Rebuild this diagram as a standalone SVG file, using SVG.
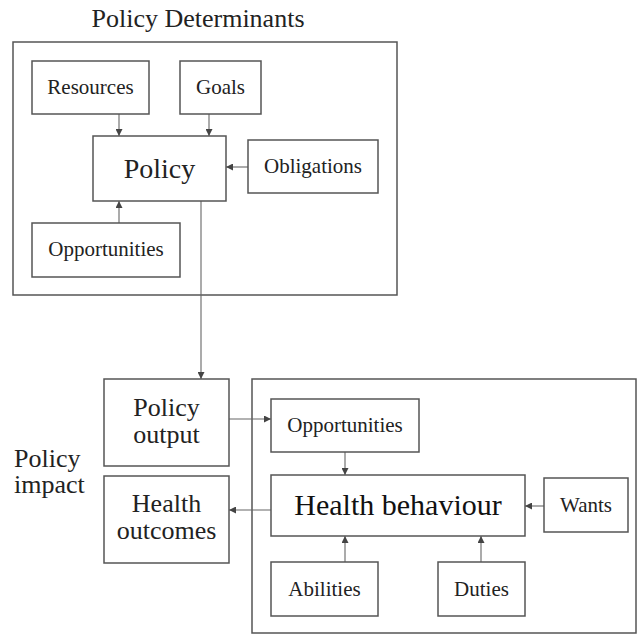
<svg xmlns="http://www.w3.org/2000/svg" width="637" height="634" viewBox="0 0 637 634">
  <style>
    .frame { fill: none; stroke: #555; stroke-width: 1.5; }
    .box { fill: #fff; stroke: #555; stroke-width: 1.5; }
    .edge { fill: none; stroke: #666; stroke-width: 1.1; }
    .t { font-family: "Liberation Serif", "Times New Roman", serif; fill: #222; text-anchor: middle; }
    .sm { font-size: 21px; }
    .md { font-size: 26px; }
    .lg { font-size: 28px; }
    .xl { font-size: 30px; fill: #111; }
    .left { text-anchor: start; }
  </style>
  <defs>
    <marker id="arrow" viewBox="0 0 10 10" refX="10" refY="5" markerWidth="7" markerHeight="7" markerUnits="userSpaceOnUse" orient="auto">
      <path d="M0,0 L10,5 L0,10 z" fill="#444"/>
    </marker>
  </defs>

  <rect width="637" height="634" fill="#fff"/>

  <!-- Group frames and headings -->
  <g id="determinants-frame">
    <text class="t md" x="198" y="27">Policy Determinants</text>
    <rect class="frame" x="13" y="42" width="384" height="253"/>
  </g>
  <g id="impact-label">
    <text class="t md left" x="14" y="467">Policy</text>
    <text class="t md left" x="14" y="493">impact</text>
  </g>
  <g id="behaviour-frame">
    <rect class="frame" x="252" y="379" width="384" height="254"/>
  </g>

  <!-- Connectors -->
  <g id="connectors">
    <line class="edge" x1="119" y1="114" x2="119" y2="136" marker-end="url(#arrow)"/>
    <line class="edge" x1="209" y1="114" x2="209" y2="136" marker-end="url(#arrow)"/>
    <line class="edge" x1="248" y1="167" x2="226" y2="167" marker-end="url(#arrow)"/>
    <line class="edge" x1="119" y1="223" x2="119" y2="201" marker-end="url(#arrow)"/>
    <line class="edge" x1="201" y1="201" x2="201" y2="379" marker-end="url(#arrow)"/>
    <line class="edge" x1="229" y1="419" x2="271" y2="419" marker-end="url(#arrow)"/>
    <line class="edge" x1="271" y1="510" x2="229" y2="510" marker-end="url(#arrow)"/>
    <line class="edge" x1="345" y1="452" x2="345" y2="475" marker-end="url(#arrow)"/>
    <line class="edge" x1="544" y1="506" x2="525" y2="506" marker-end="url(#arrow)"/>
    <line class="edge" x1="345" y1="562" x2="345" y2="536" marker-end="url(#arrow)"/>
    <line class="edge" x1="481" y1="562" x2="481" y2="536" marker-end="url(#arrow)"/>
  </g>

  <!-- Policy determinants -->
  <g id="resources">
    <rect class="box" x="32" y="61" width="117" height="53"/>
    <text class="t sm" x="90.5" y="94">Resources</text>
  </g>
  <g id="goals">
    <rect class="box" x="180" y="61" width="81" height="53"/>
    <text class="t sm" x="220.5" y="94">Goals</text>
  </g>
  <g id="policy">
    <rect class="box" x="93" y="136" width="133" height="65"/>
    <text class="t lg" x="159.5" y="178">Policy</text>
  </g>
  <g id="obligations">
    <rect class="box" x="248" y="140" width="130" height="53"/>
    <text class="t sm" x="313" y="173">Obligations</text>
  </g>
  <g id="opportunities-policy">
    <rect class="box" x="32" y="223" width="148" height="54"/>
    <text class="t sm" x="106" y="256">Opportunities</text>
  </g>

  <!-- Policy impact -->
  <g id="policy-output">
    <rect class="box" x="104" y="379" width="125" height="87"/>
    <text class="t md" x="166.5" y="416">Policy</text>
    <text class="t md" x="166.5" y="443">output</text>
  </g>
  <g id="health-outcomes">
    <rect class="box" x="104" y="476" width="125" height="87"/>
    <text class="t md" x="166.5" y="512">Health</text>
    <text class="t md" x="166.5" y="539">outcomes</text>
  </g>

  <!-- Health behaviour -->
  <g id="opportunities-behaviour">
    <rect class="box" x="271" y="399" width="148" height="53"/>
    <text class="t sm" x="345" y="432">Opportunities</text>
  </g>
  <g id="health-behaviour">
    <rect class="box" x="271" y="475" width="254" height="61"/>
    <text class="t xl" x="398" y="515">Health behaviour</text>
  </g>
  <g id="wants">
    <rect class="box" x="544" y="478" width="84" height="54"/>
    <text class="t sm" x="586" y="512">Wants</text>
  </g>
  <g id="abilities">
    <rect class="box" x="271" y="562" width="107" height="54"/>
    <text class="t sm" x="324.5" y="596">Abilities</text>
  </g>
  <g id="duties">
    <rect class="box" x="438" y="562" width="87" height="54"/>
    <text class="t sm" x="481.5" y="596">Duties</text>
  </g>
</svg>
